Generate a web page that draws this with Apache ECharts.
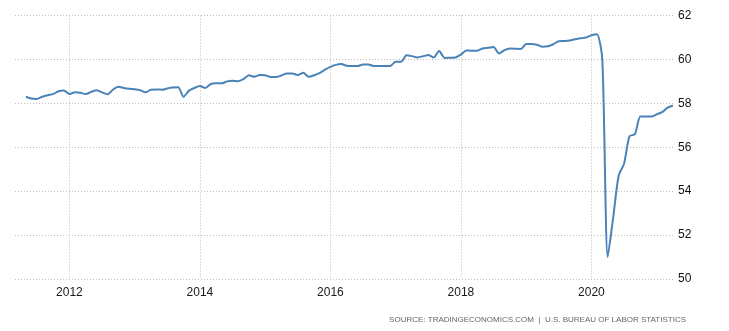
<!DOCTYPE html>
<html>
<head>
<meta charset="utf-8">
<script src="https://cdn.jsdelivr.net/npm/echarts@6/dist/echarts.min.js"></script>
<style>
html,body{margin:0;padding:0;background:#fff;}
#chart{width:729px;height:331px;}
</style>
</head>
<body>
<div id="chart"></div>
<script>
// Axis range: Mar 2011 .. Apr 2021 (monthly)
var startYear = 2011, startMonth = 3, monthCount = 122;
var yTicks = [50, 52, 54, 56, 58, 60, 62];
var xTickYears = ['2012', '2014', '2016', '2018', '2020'];

// Employment rate (%), monthly, first two months of the axis have no data
var values = [
  null, null,
  // 2011 May-Dec
  58.30, 58.22, 58.20, 58.30, 58.37, 58.42, 58.55, 58.58,
  // 2012
  58.42, 58.50, 58.48, 58.42, 58.52, 58.60, 58.50, 58.41, 58.62, 58.76, 58.70, 58.66,
  // 2013
  58.64, 58.60, 58.50, 58.62, 58.63, 58.62, 58.68, 58.72, 58.73, 58.30, 58.58, 58.70,
  // 2014
  58.79, 58.70, 58.88, 58.91, 58.91, 59.00, 59.03, 59.01, 59.10, 59.28, 59.21, 59.29,
  // 2015
  59.28, 59.20, 59.20, 59.27, 59.36, 59.36, 59.29, 59.39, 59.21, 59.28, 59.38, 59.53,
  // 2016
  59.66, 59.75, 59.79, 59.71, 59.70, 59.70, 59.77, 59.77, 59.70, 59.70, 59.70, 59.70,
  // 2017
  59.89, 59.89, 60.19, 60.15, 60.09, 60.14, 60.20, 60.09, 60.38, 60.07, 60.08, 60.09,
  // 2018
  60.22, 60.41, 60.40, 60.40, 60.50, 60.53, 60.57, 60.27, 60.42, 60.50, 60.49, 60.47,
  // 2019
  60.70, 60.70, 60.67, 60.58, 60.60, 60.69, 60.83, 60.84, 60.86, 60.92, 60.96, 61.00,
  // 2020
  61.10, 61.15, 60.00, 51.00, 52.80, 54.70, 55.25, 56.50, 56.60, 57.40, 57.40, 57.40,
  // 2021 Jan-Apr
  57.50, 57.60, 57.80, 57.90
];

var categories = [];
for (var i = 0; i < monthCount; i++) {
  var m = startMonth - 1 + i;
  var y = startYear + Math.floor(m / 12);
  var mm = (m % 12) + 1;
  categories.push(y + '-' + (mm < 10 ? '0' + mm : mm));
}

function isYearTick(index, value) {
  var v = categories[index];
  return v.slice(5) === '01' && xTickYears.indexOf(v.slice(0, 4)) >= 0;
}

var font = '"Liberation Sans Narrow", "Arial Narrow", "Liberation Sans", Arial, sans-serif';

var chart = echarts.init(document.getElementById('chart'), null, {renderer: 'canvas'});
chart.setOption({
  animation: false,
  backgroundColor: '#ffffff',
  grid: {left: 15, right: 56, top: 15.5, bottom: 52, containLabel: false},
  xAxis: {
    type: 'category',
    data: categories,
    boundaryGap: false,
    axisLine: {show: false},
    axisTick: {show: false},
    axisLabel: {
      interval: isYearTick,
      formatter: function (v) { return v.slice(0, 4); },
      color: '#1a1a1a',
      fontFamily: font,
      fontSize: 12,
      margin: 8
    },
    splitLine: {
      show: true,
      interval: isYearTick,
      lineStyle: {color: '#bdbdbd', type: [1, 2], width: 1}
    }
  },
  yAxis: {
    type: 'value',
    position: 'right',
    min: yTicks[0],
    max: yTicks[yTicks.length - 1],
    interval: 2,
    axisLine: {show: false},
    axisTick: {show: false},
    axisLabel: {
      color: '#111',
      fontFamily: font,
      fontSize: 12,
      margin: 5,
      align: 'left'
    },
    splitLine: {
      show: true,
      lineStyle: {color: '#bdbdbd', type: [1, 2], width: 1}
    }
  },
  series: [{
    type: 'line',
    data: values,
    smooth: 0.25,
    showSymbol: false,
    symbol: 'none',
    connectNulls: false,
    lineStyle: {color: '#4a83b8', width: 2}
  }],
  graphic: [{
    type: 'text',
    right: 43,
    top: 316,
    style: {
      text: 'SOURCE: TRADINGECONOMICS.COM  |  U.S. BUREAU OF LABOR STATISTICS',
      fill: '#666',
      font: '8px ' + font
    }
  }]
});
</script>
</body>
</html>
